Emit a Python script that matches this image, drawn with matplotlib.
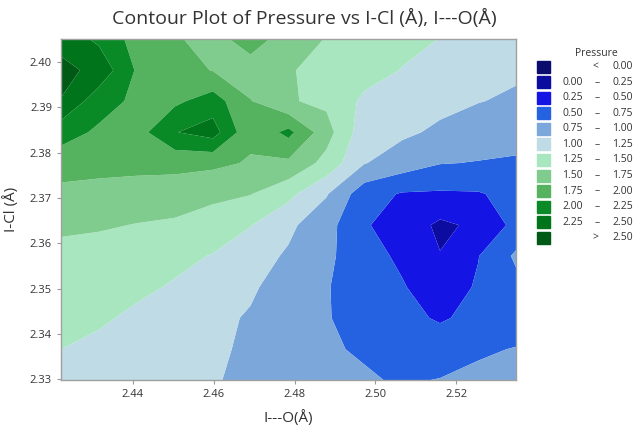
import numpy as np
import matplotlib
matplotlib.use("Agg")
import matplotlib.pyplot as plt
from matplotlib.patches import Rectangle

plt.rcParams['font.family'] = ['Open Sans', 'DejaVu Sans']

# grid positions (I---O along x, I-Cl along y, top row first)
io_vals = [2.4222, 2.4316, 2.4410, 2.4504, 2.4598, 2.4691, 2.4785,
           2.4879, 2.4973, 2.5067, 2.5160, 2.5254, 2.5348]
icl_vals = [2.4051, 2.3982, 2.3914, 2.3845, 2.3777, 2.3709,
            2.3640, 2.3572, 2.3503, 2.3435, 2.3366, 2.3298]

# pressure, one row per I-Cl value
pressure = [
    [2.40, 2.20, 1.90, 1.78, 1.65, 1.88, 1.62, 1.49, 1.40, 1.32, 1.245, 1.17, 1.12],
    [2.58, 2.42, 1.97, 1.85, 1.74, 1.62, 1.52, 1.42, 1.35, 1.24, 1.15, 1.08, 1.04],
    [2.49, 2.10, 1.95, 1.95, 2.12, 1.76, 1.52, 1.45, 1.20, 1.15, 1.06, 1.01, 0.96],
    [2.10, 1.96, 1.90, 2.24, 2.36, 1.80, 2.07, 1.60, 1.10, 1.04, 0.96, 0.87, 0.84],
    [1.87, 1.84, 1.82, 1.82, 1.80, 1.73, 1.70, 1.42, 1.01, 0.88, 0.76, 0.74, 0.72],
    [1.68, 1.66, 1.65, 1.63, 1.57, 1.51, 1.32, 1.02, 0.60, 0.48, 0.47, 0.48, 0.58],
    [1.55, 1.53, 1.49, 1.46, 1.36, 1.26, 1.05, 0.84, 0.52, 0.40, 0.20, 0.30, 0.57],
    [1.42, 1.39, 1.35, 1.30, 1.24, 1.10, 0.97, 0.80, 0.60, 0.45, 0.26, 0.49, 0.79],
    [1.36, 1.33, 1.29, 1.23, 1.12, 1.03, 0.90, 0.77, 0.58, 0.52, 0.35, 0.53, 0.68],
    [1.30, 1.28, 1.21, 1.13, 1.05, 0.98, 0.85, 0.77, 0.62, 0.55, 0.48, 0.55, 0.63],
    [1.25, 1.20, 1.14, 1.09, 1.04, 0.96, 0.84, 0.78, 0.72, 0.62, 0.60, 0.72, 0.76],
    [1.20, 1.15, 1.10, 1.06, 1.02, 0.94, 0.87, 0.81, 0.78, 0.72, 0.76, 0.80, 0.82],
]

bounds = [0.00, 0.25, 0.50, 0.75, 1.00, 1.25, 1.50, 1.75, 2.00, 2.25, 2.50]
band_colors = ['#0c0c6e', '#0c0ca0', '#1414e4', '#2462e2', '#7ba7da', '#bedbe6',
               '#a8e6c0', '#80cc8e', '#55b25e', '#0a8a26', '#00741a', '#005a16']

x = np.array(io_vals)
y = np.array(icl_vals)[::-1]
z = np.array(pressure)[::-1]

fig = plt.figure(figsize=(6.36, 4.29), dpi=100)
ax = fig.add_axes([61/636, 49/429, 455/636, 341/429])

levels = [-100] + bounds + [100]
ax.contourf(x, y, z, levels=levels, colors=band_colors, antialiased=True)

ax.set_xlim(2.4222, 2.5348)
ax.set_ylim(2.3298, 2.4051)
ax.set_xticks([2.44, 2.46, 2.48, 2.50, 2.52])
ax.set_yticks([2.33, 2.34, 2.35, 2.36, 2.37, 2.38, 2.39, 2.40])
ax.xaxis.set_major_formatter(plt.FormatStrFormatter('%.2f'))
ax.yaxis.set_major_formatter(plt.FormatStrFormatter('%.2f'))
ax.tick_params(labelsize=8, colors='#9a9a9a', labelcolor='#333333', length=3, width=0.8)
for s in ax.spines.values():
    s.set_color('#a0a0a0')
    s.set_linewidth(1)

ax.set_xlabel('I---O(Å)', fontsize=11, color='#333333', labelpad=7)
ax.set_ylabel('I-Cl (Å)', fontsize=11, color='#333333', labelpad=8)

# legend and title drawn in pixel coordinates on an overlay axes
lg = fig.add_axes([0, 0, 1, 1])
lg.set_xlim(0, 636)
lg.set_ylim(429, 0)
lg.axis('off')
lg.text(304, 18, 'Contour Plot of Pressure vs I-Cl (Å), I---O(Å)', fontsize=14,
        ha='center', va='center', color='#333333')
lg.text(596, 53, 'Pressure', fontsize=7.5, ha='center', va='center', color='#333333')
for i, col in enumerate(band_colors):
    yc = 66.7 + i * 15.55
    lg.add_patch(Rectangle((537, yc - 6), 13, 12, color=col))
    if i == 0:
        lg.text(595, yc, '<', fontsize=7.5, ha='center', va='center', color='#333333')
        lg.text(633, yc, '%.2f' % bounds[0], fontsize=7.5, ha='right', va='center', color='#333333')
    elif i == len(band_colors) - 1:
        lg.text(595, yc, '>', fontsize=7.5, ha='center', va='center', color='#333333')
        lg.text(633, yc, '%.2f' % bounds[-1], fontsize=7.5, ha='right', va='center', color='#333333')
    else:
        lg.text(583, yc, '%.2f' % bounds[i - 1], fontsize=7.5, ha='right', va='center', color='#333333')
        lg.text(597, yc, '–', fontsize=7.5, ha='center', va='center', color='#333333')
        lg.text(633, yc, '%.2f' % bounds[i], fontsize=7.5, ha='right', va='center', color='#333333')

fig.savefig('out.png', dpi=100)
